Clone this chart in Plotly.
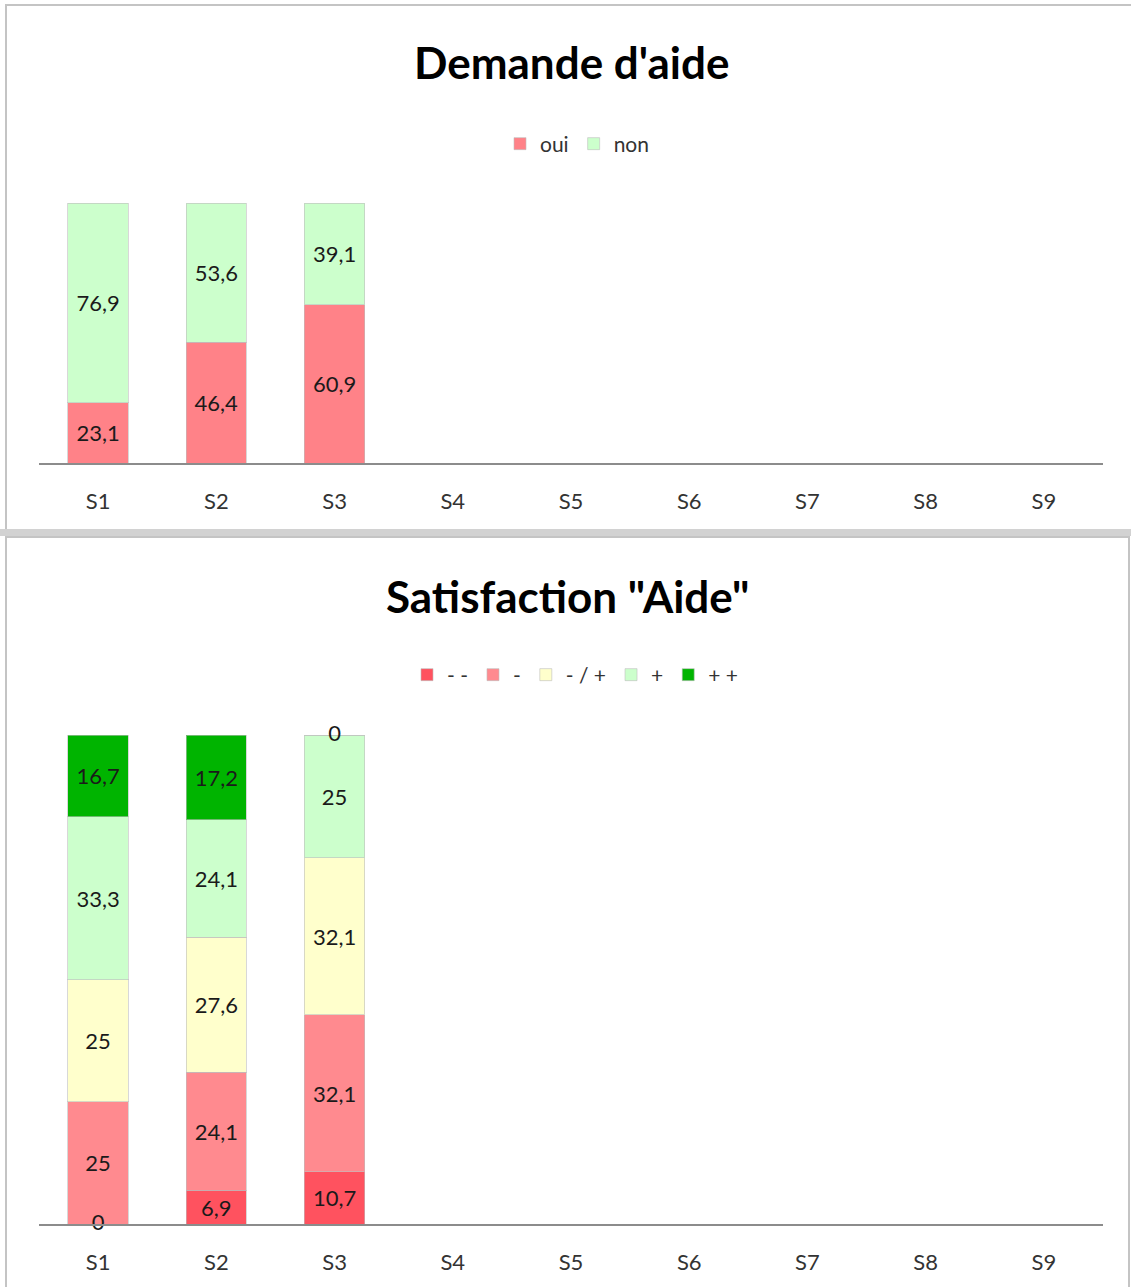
import plotly.graph_objects as go

W, H = 1131, 1287

# data
sessions = ['S1', 'S2', 'S3', 'S4', 'S5', 'S6', 'S7', 'S8', 'S9']
oui = [23.1, 46.4, 60.9]
non = [76.9, 53.6, 39.1]

sat_names = ['- -', '-', '- / +', '+', '+ +']
sat_tres_neg = [0, 6.9, 10.7]
sat_neg = [25, 24.1, 32.1]
sat_moyen = [25, 27.6, 32.1]
sat_pos = [33.3, 24.1, 25]
sat_tres_pos = [16.7, 17.2, 0]

FONT = 'Lato'
TXT = '#1a1a1a'


def px_x(x):
    return x / W


def px_y(y):
    return 1 - y / H


def fmt(v):
    return f'{v:g}'.replace('.', ',')


fig = go.Figure()


def add_stack(series, names, colors, xa, ya, legend):
    cats = sessions[:len(series[0])]
    base = [0] * len(cats)
    zx, zy = [], []
    for vals, name, col in zip(series, names, colors):
        fig.add_trace(go.Bar(
            x=cats, y=vals, name=name, xaxis=xa, yaxis=ya, legend=legend,
            text=[fmt(v) if v else '' for v in vals],
            textposition='inside', insidetextanchor='middle', textangle=0,
            constraintext='none',
            insidetextfont=dict(family=FONT, size=22, color=TXT),
            marker=dict(color=col, line=dict(color='rgba(190,190,190,0.6)', width=1)),
            hoverinfo='x+y+name'))
        for i, v in enumerate(vals):
            if v == 0:
                # zero-height segments still get their "0" label
                zx.append(cats[i])
                zy.append(base[i])
            base[i] += v
    if zx:
        fig.add_trace(go.Scatter(
            x=zx, y=zy, text=['0'] * len(zx), mode='text', xaxis=xa, yaxis=ya,
            textposition='middle center',
            textfont=dict(family=FONT, size=22, color=TXT),
            showlegend=False, hoverinfo='skip', cliponaxis=False))


add_stack([oui, non], ['oui', 'non'], ['#FF8288', '#CCFFCC'], 'x', 'y', 'legend')
add_stack([sat_tres_neg, sat_neg, sat_moyen, sat_pos, sat_tres_pos], sat_names,
          ['#FF525F', '#FF8A8F', '#FFFFCC', '#CCFFCC', '#00B400'], 'x2', 'y2', 'legend2')

xdom = [px_x(39), px_x(1103)]
xaxis_common = dict(
    type='category', categoryorder='array', categoryarray=sessions,
    range=[-0.5, 8.5], showgrid=False, zeroline=False,
    showline=True, linecolor='#8c8c8c', linewidth=2,
    ticks='', ticklabelstandoff=18,
    tickfont=dict(family=FONT, size=22, color='#333333'), fixedrange=True)
yaxis_common = dict(range=[0, 100], visible=False, showgrid=False, fixedrange=True)

legend_common = dict(orientation='h', xanchor='center', yanchor='middle', traceorder='normal',
                     font=dict(family=FONT, size=21, color='#333333'), itemwidth=30,
                     bgcolor='rgba(0,0,0,0)')

fig.update_layout(
    width=W, height=H,
    margin=dict(l=0, r=0, t=0, b=0),
    paper_bgcolor='white', plot_bgcolor='white',
    barmode='stack', bargap=0.49,
    font=dict(family=FONT, color=TXT),
    xaxis=dict(domain=xdom, anchor='y', **xaxis_common),
    yaxis=dict(domain=[px_y(463), px_y(203)], anchor='x', **yaxis_common),
    xaxis2=dict(domain=xdom, anchor='y2', **xaxis_common),
    yaxis2=dict(domain=[px_y(1224), px_y(735)], anchor='x2', **yaxis_common),
    legend=dict(x=px_x(577), y=px_y(144), **legend_common),
    legend2=dict(x=px_x(575), y=px_y(675), **legend_common),
    annotations=[
        dict(text="<b>Demande d'aide</b>", x=px_x(571), y=px_y(62), xref='paper', yref='paper',
             xanchor='center', yanchor='middle',
             showarrow=False, font=dict(family=FONT, size=44, color='#000000')),
        dict(text='<b>Satisfaction "Aide"</b>', x=px_x(567), y=px_y(596), xref='paper', yref='paper',
             xanchor='center', yanchor='middle',
             showarrow=False, font=dict(family=FONT, size=44, color='#000000')),
    ],
    shapes=[
        # panel frames
        dict(type='rect', xref='paper', yref='paper', x0=px_x(6), x1=px_x(1136), y0=px_y(530), y1=px_y(5),
             line=dict(color='#c4c4c4', width=2), fillcolor='rgba(0,0,0,0)', layer='below'),
        dict(type='rect', xref='paper', yref='paper', x0=0, x1=1, y0=px_y(536), y1=px_y(529),
             line=dict(width=0), fillcolor='#d2d2d2', layer='below'),
        dict(type='rect', xref='paper', yref='paper', x0=px_x(6), x1=px_x(1129), y0=px_y(1295), y1=px_y(537),
             line=dict(color='#c4c4c4', width=2), fillcolor='rgba(0,0,0,0)', layer='below'),
    ],
)

fig.write_html('out.html', config={'displayModeBar': False},
               post_script="document.body.style.margin='0';")
